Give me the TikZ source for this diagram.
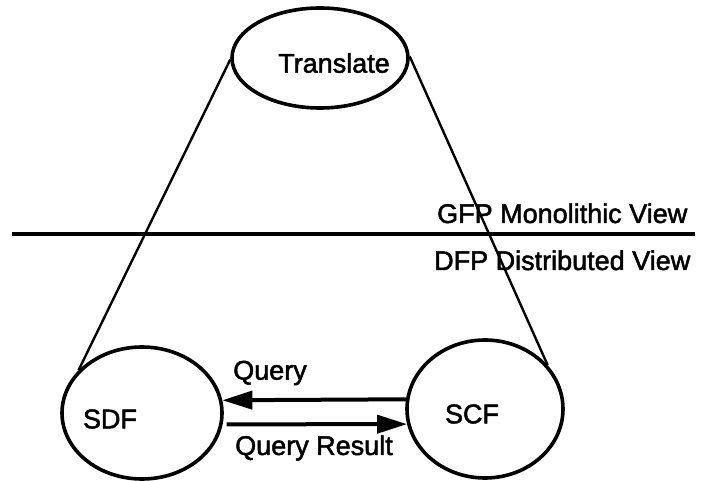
\documentclass[tikz,border=0pt]{standalone}
\usepackage{fontspec}
\setmainfont{Liberation Sans}[FakeBold=1.8]
\usetikzlibrary{shapes.geometric,arrows.meta}
\begin{document}
\begin{tikzpicture}[x=1pt,y=-1pt,
  proc/.style={draw,ellipse,line width=3.6pt,inner sep=0pt},
  lbl/.style={inner sep=0pt,font=\fontsize{27}{30}\selectfont},
  funnel/.style={line width=2.4pt},
  divider/.style={line width=3.4pt},
  msg/.style={line width=4pt,-{Triangle[length=30pt,width=18pt]}}]
\useasboundingbox (0,0) rectangle (702,481);
% processes
\node[proc,minimum width=176pt,minimum height=100pt] (tr) at (320,58) {};
\node[proc,minimum width=160pt,minimum height=132pt] (sdf) at (142,413) {};
\node[proc,minimum width=156pt,minimum height=138pt] (scf) at (485,409) {};
\node[lbl] at (334,63) {Translate};
\node[lbl] at (110,419) {SDF};
\node[lbl] at (472,414) {SCF};
% view boundary
\coordinate (dl) at (12,234);
\coordinate (dr) at (695,234);
\draw[divider] (dl) -- (dr);
\node[lbl,anchor=base west] at (437,223) {GFP Monolithic View};
\node[lbl,anchor=base west] at (434,270) {DFP Distributed View};
% funnel from Translate down to the two functions
\draw[funnel] (tr.181) -- (sdf.146);
\draw[funnel] (tr.1) -- (scf.35);
% messages
\draw[msg] (scf.173.4) -- (sdf.9.4);
\draw[msg,shorten <=4pt] (sdf.-8.7) -- (scf.191.9);
\node[lbl] at (270,373) {Query};
\node[lbl] at (314,448) {Query Result};
\end{tikzpicture}
\end{document}
